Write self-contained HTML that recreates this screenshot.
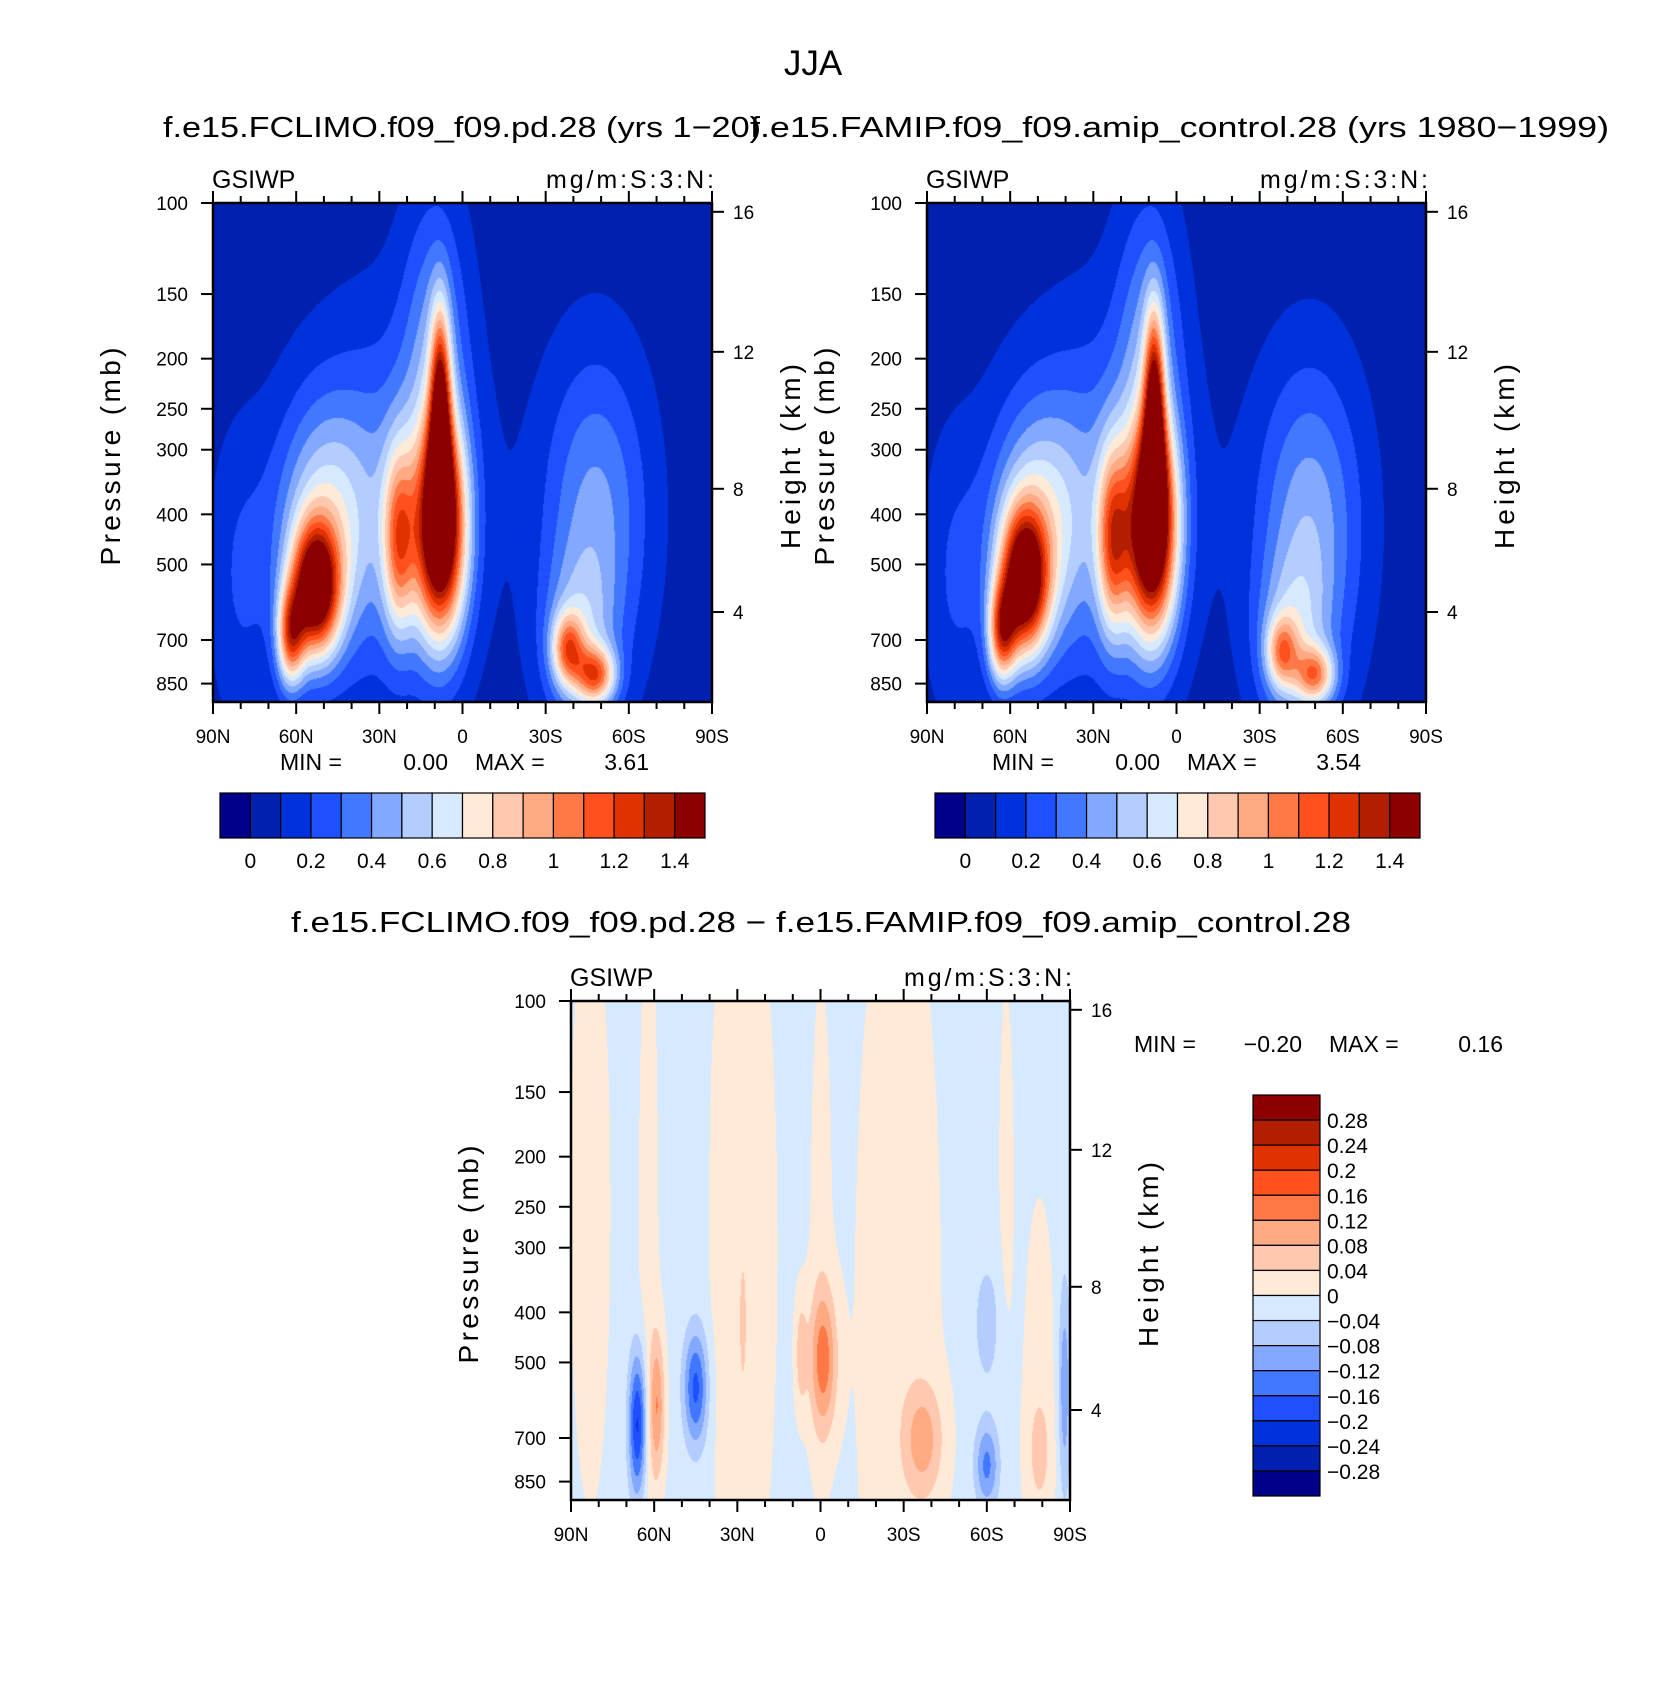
<!DOCTYPE html>
<html><head><meta charset="utf-8">
<style>
html,body{margin:0;padding:0;background:#fff;}
#wrap{position:relative;width:1663px;height:1702px;overflow:hidden;font-family:"Liberation Sans",sans-serif;}
canvas{position:absolute;}
svg{position:absolute;left:0;top:0;}
text{font-family:"Liberation Sans",sans-serif;fill:#000;}
</style></head>
<body>
<div id="wrap">
<canvas id="c1" width="499" height="499" style="left:213px;top:203px"></canvas>
<canvas id="c2" width="499" height="499" style="left:927px;top:203px"></canvas>
<canvas id="c3" width="499" height="499" style="left:571px;top:1001px"></canvas>
<svg id="svg" width="1663" height="1702"></svg>
</div>
<script>
// ---- data ----
const latTicks = [90,60,30,0,-30,-60,-90];
const latTickLabels = ["90N","60N","30N","0","30S","60S","90S"];
const presTicks = [100,150,200,250,300,400,500,700,850];
const heightTicks = [16,12,8,4];
const heightTickPres = [104,194,357,618];
const absLevels = [0,0.1,0.2,0.3,0.4,0.5,0.6,0.7,0.8,0.9,1.0,1.1,1.2,1.3,1.4];
const absLabels = ["0","0.2","0.4","0.6","0.8","1","1.2","1.4"];
const diffLevels = [-0.28,-0.24,-0.2,-0.16,-0.12,-0.08,-0.04,0,0.04,0.08,0.12,0.16,0.2,0.24,0.28];
const diffLabels = ["0.28","0.24","0.2","0.16","0.12","0.08","0.04","0","\u22120.04","\u22120.08","\u22120.12","\u22120.16","\u22120.2","\u22120.24","\u22120.28"];
const palette = ["#00008a","#0020b0","#0032dc","#1e50ff","#4178ff","#82a8ff","#b4cdff","#d7e9ff","#ffead7","#ffc8af","#ffaa82","#ff7846","#ff501e","#e03200","#b41e00","#8c0000"];
// blobs: lat, pressure(mb), amplitude, lat-width, logp-width
const leftBase = 0.05;
const leftLat =  [25, 10, 50, 53, 62, 23, 8, 8, 8, -38, -48, -42, -48, 80];
const leftPres = [380,180,420,560,690,450,430,230,330,730,820,706,400,530];
const leftAmp =  [0.3,0.3,0.5,1.4,0.9,0.75,1.6,0.9,0.6,0.7,0.8,0.35,0.38,0.15];
const leftSLat = [20,8,12,6,3.5,4,6.5,2.5,3,4,5,9,13,8];
const leftSF =   [0.25,0.2,0.17,0.09,0.07,0.13,0.15,0.12,0.1,0.05,0.04,0.12,0.22,0.2];
const rightBase = 0.05;
const rightLat =  [25, 10, 50, 55, 63, 23, 9, 8, 8, -38, -50, -42, -48, 80];
const rightPres = [380,180,420,540,680,450,430,230,330,740,820,706,420,530];
const rightAmp =  [0.3,0.3,0.5,1.4,0.9,0.8,1.6,0.9,0.6,0.6,0.7,0.35,0.42,0.15];
const rightSLat = [20,8,12,6,3.5,4,6.5,2.5,3,4,5,9,13,8];
const rightSF =   [0.25,0.2,0.17,0.1,0.07,0.13,0.15,0.12,0.1,0.05,0.04,0.12,0.22,0.2];
const diffBase = -0.012;
const diffLat =  [83,62,36,24,0,-28,-67,-79,59,-1,7,-37,-79,28,66,45,-60,-60,-88];
const diffPres = [250,400,300,300,300,400,200,600,605,495,480,706,740,420,660,560,790,420,560];
const diffAmp =  [0.025,0.025,0.022,0.025,0.022,0.028,0.022,0.024,0.12,0.14,0.07,0.1,0.05,0.05,-0.2,-0.16,-0.12,-0.06,-0.1];
const diffSLat = [6,3,3.5,7,3,12,2.2,5,2,3.5,1.5,5,3,1,2.2,3,3,3,1.5];
const diffSF =   [0.5,0.7,0.45,0.55,0.45,0.7,0.3,0.35,0.1,0.1,0.08,0.08,0.08,0.1,0.1,0.08,0.06,0.08,0.15];

// ---- axes helpers ----
const LOGSPAN = 0.965;
function fracP(p){ return (Math.log10(p)-2)/LOGSPAN; }
function xScale(lat,x0,w){ return x0 + (90-lat)/180*w; }
function yScale(p,y0,h){ return y0 + fracP(p)*h; }

function field(lat,f,base,L,P,A,SL,SF){
  let v=base;
  for(let i=0;i<L.length;i++){
    const dl=(lat-L[i])/SL[i], df=(f-fracP(P[i]))/SF[i];
    v+=A[i]*Math.exp(-0.5*(dl*dl+df*df));
  }
  return v;
}
function hex(c){return [parseInt(c.slice(1,3),16),parseInt(c.slice(3,5),16),parseInt(c.slice(5,7),16)];}
const palRGB = palette.map(hex);
function cls(v,levels){ let k=0; while(k<levels.length && v>=levels[k]) k++; return k; }
function drawField(id,base,L,P,A,SL,SF,levels){
  const cv=document.getElementById(id), ctx=cv.getContext('2d');
  const W=cv.width,H=cv.height, img=ctx.createImageData(W,H);
  for(let j=0;j<H;j++){
    const f=(j+0.5)/H;
    for(let i=0;i<W;i++){
      const lat=90-(i+0.5)/W*180;
      const c=palRGB[cls(field(lat,f,base,L,P,A,SL,SF),levels)];
      const o=(j*W+i)*4; img.data[o]=c[0];img.data[o+1]=c[1];img.data[o+2]=c[2];img.data[o+3]=255;
    }
  }
  ctx.putImageData(img,0,0);
}
drawField('c1',leftBase,leftLat,leftPres,leftAmp,leftSLat,leftSF,absLevels);
drawField('c2',rightBase,rightLat,rightPres,rightAmp,rightSLat,rightSF,absLevels);
drawField('c3',diffBase,diffLat,diffPres,diffAmp,diffSLat,diffSF,diffLevels);

// ---- svg ----
const NS="http://www.w3.org/2000/svg", svg=document.getElementById('svg');
function el(tag,attrs,parent){ const e=document.createElementNS(NS,tag); for(const k in attrs) e.setAttribute(k,attrs[k]); (parent||svg).appendChild(e); return e; }
function txt(s,x,y,size,anchor,parent,extra){ const t=el('text',Object.assign({x:x,y:y,'font-size':size,'text-anchor':anchor||'start'},extra||{}),parent); t.textContent=s; return t; }

function panel(name,x0,y0,w,h,title,titleX,titleW){
  const g=el('g',{});
  
  
  const fr=el('rect',{x:x0,y:y0,width:w,height:h,fill:'none',stroke:'#000','stroke-width':2.5},g);
  
  
  for(let lat=90;lat>=-90;lat-=10){
    const x=xScale(lat,x0,w), major=(lat%30===0), L=major?12:7;
    el('line',{x1:x,x2:x,y1:y0+h,y2:y0+h+L,stroke:'#000','stroke-width':2},g);
    el('line',{x1:x,x2:x,y1:y0,y2:y0-L,stroke:'#000','stroke-width':2},g);
  }
  latTicks.forEach((lat,i)=>{
    const t=txt(latTickLabels[i],xScale(lat,x0,w),y0+h+41,19,'middle',g);
    
    
  });
  presTicks.forEach(p=>{
    const y=yScale(p,y0,h);
    el('line',{x1:x0,x2:x0-12,y1:y,y2:y,stroke:'#000','stroke-width':2},g);
    const t=txt(String(p),x0-25,y+7,19,'end',g);
    
    
  });
  heightTicks.forEach((z,i)=>{
    const y=yScale(heightTickPres[i],y0,h);
    el('line',{x1:x0+w,x2:x0+w+12,y1:y,y2:y,stroke:'#000','stroke-width':2},g);
    const t=txt(String(z),x0+w+21,y+7,19,'start',g);
    
    
  });
  const yl=txt('Pressure (mb)',0,0,28,'middle',g,{transform:`translate(${x0-93},${y0+h/2+4}) rotate(-90)`,textLength:218,lengthAdjust:'spacing'});
  
  
  const hl=txt('Height (km)',0,0,28,'middle',g,{transform:`translate(${x0+w+88},${y0+h/2+4}) rotate(-90)`,textLength:185,lengthAdjust:'spacing'});
  
  
  const gl=txt('GSIWP',x0-1,y0-15,25,'start',g);
  
  
  const ul=txt('mg/m:S:3:N:',x0+w+2,y0-15,25,'end',g,{textLength:168,lengthAdjust:'spacing'});
  
  
  if(title){
    const tt=txt(title,titleX,y0-66,29,'start',g,{textLength:titleW,lengthAdjust:'spacingAndGlyphs'});
    
    
  }
}
panel('left',213,203,499,499,'f.e15.FCLIMO.f09_f09.pd.28 (yrs 1\u221220)',163,598);
panel('right',927,203,499,499,'f.e15.FAMIP.f09_f09.amip_control.28 (yrs 1980\u22121999)',750,859);
panel('diff',571,1001,499,499,null);

const main=txt('JJA',813,75,35,'middle');


const dt=txt('f.e15.FCLIMO.f09_f09.pd.28 \u2212 f.e15.FAMIP.f09_f09.amip_control.28',821,932,29,'middle',svg,{textLength:1060,lengthAdjust:'spacingAndGlyphs'});



function minmax(name,x,y,minStr,maxStr){
  const g=el('g',{});
  
  
  txt('MIN =',x,y,23,'start',g);
  txt(minStr,x+168,y,23,'end',g);
  txt('MAX =',x+195,y,23,'start',g);
  txt(maxStr,x+369,y,23,'end',g);
}
minmax('left-minmax',280,770,'0.00','3.61');
minmax('right-minmax',992,770,'0.00','3.54');
minmax('diff-minmax',1134,1052,'\u22120.20','0.16');

function hbar(name,x0,y0,w,h){
  const g=el('g',{});
  
  
  const bw=w/palette.length;
  palette.forEach((c,i)=>{
    const r=el('rect',{x:x0+i*bw,y:y0,width:bw,height:h,fill:c,stroke:'#000','stroke-width':1.2},g);
    
    
  });
  absLabels.forEach((s,i)=>{
    const t=txt(s,x0+bw*(1+2*i),y0+h+30,21,'middle',g);
    
    
  });
}
hbar('left-colorbar',220,793,485,45);
hbar('right-colorbar',935,793,485,45);

(function(){
  const x0=1253,y0=1095,w=67,h=401;
  const g=el('g',{});
  
  
  const bh=h/palette.length;
  palette.slice().reverse().forEach((c,i)=>{
    const r=el('rect',{x:x0,y:y0+i*bh,width:w,height:bh,fill:c,stroke:'#000','stroke-width':1.2},g);
    
    
  });
  diffLabels.forEach((s,i)=>{
    const t=txt(s,x0+w+7,y0+bh*(i+1)+8,21,'start',g);
    
    
  });
})();
</script>
</body></html>
